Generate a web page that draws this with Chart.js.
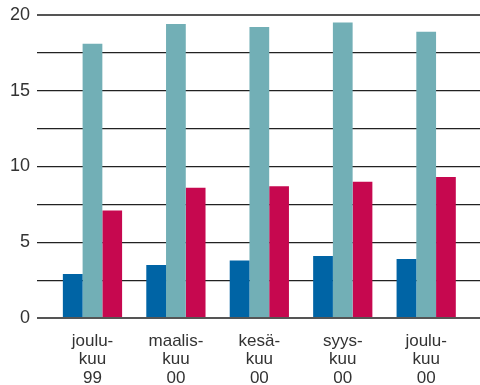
<!DOCTYPE html>
<html>
<head>
<meta charset="utf-8">
<script src="https://cdn.jsdelivr.net/npm/chart.js@4"></script>
<style>
  body { margin: 0; background: #fff; }
  canvas { display: block; }
</style>
</head>
<body>
<canvas id="chart" width="480" height="385"></canvas>
<script>
// Data
const categories = [
    ['joulu-', 'kuu', '99'],
    ['maalis-', 'kuu', '00'],
    ['kesä-', 'kuu', '00'],
    ['syys-', 'kuu', '00'],
    ['joulu-', 'kuu', '00']
];
const seriesBlue = [2.9, 3.5, 3.8, 4.1, 3.9];
const seriesTeal = [18.1, 19.4, 19.2, 19.5, 18.9];
const seriesRed = [7.1, 8.6, 8.7, 9.0, 9.3];
const yTickLabels = [0, 5, 10, 15, 20];

const textColor = '#333';
const fontFamily = "'Liberation Sans', Arial, sans-serif";

function toPoints(values) {
    return values.map((v, i) => ({ x: i, y: v }));
}

const ctx = document.getElementById('chart').getContext('2d');

new Chart(ctx, {
    type: 'bar',
    data: {
        datasets: [
            { data: toPoints(seriesBlue), backgroundColor: '#0064a5' },
            { data: toPoints(seriesTeal), backgroundColor: '#72afb6' },
            { data: toPoints(seriesRed), backgroundColor: '#c6084f' }
        ]
    },
    options: {
        responsive: false,
        animation: false,
        layout: { padding: { top: 15, right: 0, left: 0, bottom: 0 } },
        datasets: {
            bar: { categoryPercentage: 0.71, barPercentage: 1, borderWidth: 0 }
        },
        plugins: {
            legend: { display: false },
            tooltip: { enabled: false }
        },
        scales: {
            x: {
                type: 'linear',
                offset: false,
                min: -0.665,
                max: 4.645,
                grid: { display: false, offset: false },
                border: { display: false },
                afterBuildTicks: (scale) => {
                    scale.ticks = categories.map((c, i) => ({ value: i }));
                },
                afterFit: (scale) => { scale.height = 67; },
                ticks: {
                    autoSkip: false,
                    maxRotation: 0,
                    padding: 6,
                    color: textColor,
                    font: { family: fontFamily, size: 17, lineHeight: 1.09 },
                    callback: (value) => categories[value]
                }
            },
            y: {
                min: 0,
                max: 20,
                border: { display: false },
                afterFit: (scale) => { scale.width = 37; },
                grid: {
                    drawTicks: false,
                    color: (c) => (c.tick && (c.tick.value === 20 || c.tick.value === 0)) ? '#555' : '#222',
                    lineWidth: (c) => (c.tick && (c.tick.value === 20 || c.tick.value === 0)) ? 2 : 1.2
                },
                ticks: {
                    stepSize: 2.5,
                    padding: 7,
                    color: textColor,
                    // small lineHeight keeps the label padding from pushing the plot top down
                    font: { family: fontFamily, size: 18, lineHeight: 0.8 },
                    callback: (value) => yTickLabels.includes(value) ? value : ''
                }
            }
        }
    }
});
</script>
</body>
</html>
